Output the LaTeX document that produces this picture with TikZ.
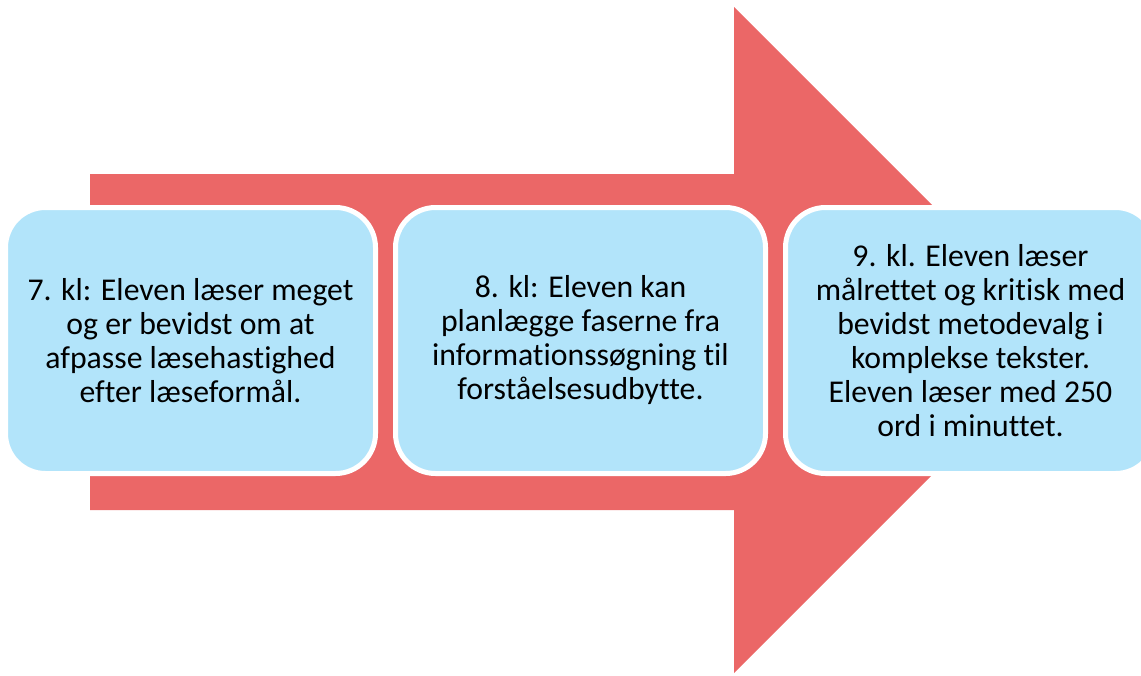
\documentclass[tikz,border=0pt]{standalone}
\usepackage{fontspec}
\setmainfont[Ligatures=NoCommon]{Carlito}
\definecolor{arrowred}{HTML}{EB6767}
\definecolor{boxblue}{HTML}{B2E4FA}
\tikzset{
  stage/.style={draw=white,line width=3.75pt,fill=boxblue,rounded corners=30pt,
    minimum width=277.5pt,minimum height=199.5pt,align=center,inner sep=0pt,
    font=\fontsize{23.8}{25.5}\selectfont}
}

\begin{document}
\begin{tikzpicture}[x=0.75pt,y=-0.75pt]
    \useasboundingbox (0,0) rectangle (1141,675);
    \clip (0,0) rectangle (1141,675);
    % arrow
    \path[fill=arrowred] (90,174) -- (734,174) -- (734,7) -- (1067,340)
      -- (734,673) -- (734,510) -- (90,510) -- cycle;
    % 7. kl
    \node[stage] (kl7) at (190.5,340.5) {7. kl: Eleven læser meget\\og er bevidst om at\\afpasse læsehastighed\\efter læseformål.};
    % 8. kl
    \node[stage] (kl8) at (580.5,340.5) {8. kl: Eleven kan\\planlægge faserne fra\\informationssøgning til\\forståelsesudbytte.};
    % 9. kl
    \node[stage] (kl9) at (970.5,340.5) {9. kl. Eleven læser\\målrettet og kritisk med\\bevidst metodevalg i\\komplekse tekster.\\Eleven læser med 250\\ord i minuttet.};
\end{tikzpicture}
\end{document}
